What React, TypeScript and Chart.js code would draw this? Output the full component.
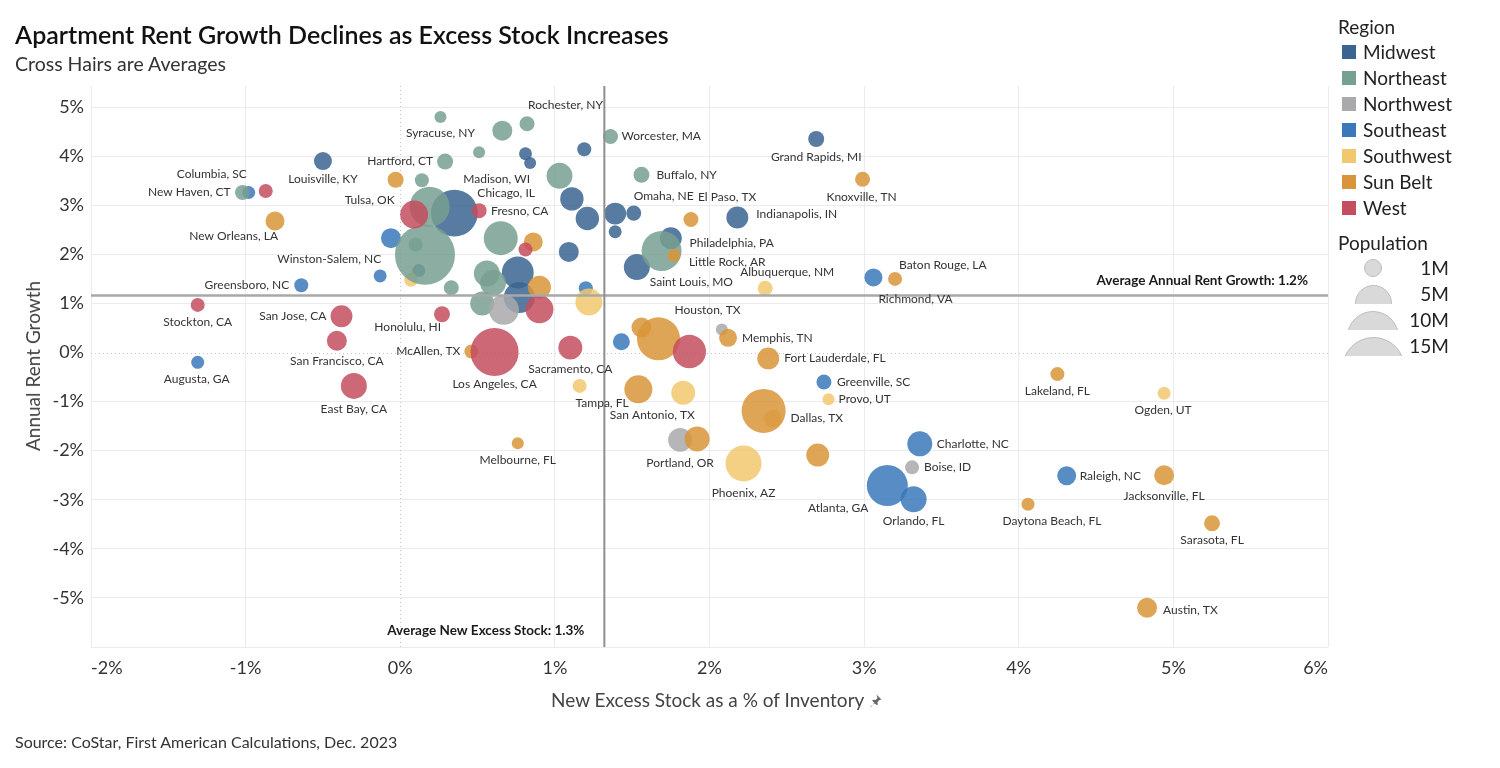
import React, { useEffect, useRef } from "react";
import { Chart, registerables } from "chart.js";

Chart.register(...registerables);

const FONT = "Lato, 'Open Sans', sans-serif";

// ---------- Data ----------
const REGIONS = ["Midwest", "Northeast", "Northwest", "Southeast", "Southwest", "Sun Belt", "West"];
const REGION_COLORS = ["#3b6591", "#78a092", "#a9a9ab", "#3a78bb", "#f2c86f", "#d9953a", "#c44e5f"];

const MIDWEST_CITIES = ["Louisville, KY", "Chicago, IL", "Madison, WI", "", "", "", "", "", "Omaha, NE", "", "Indianapolis, IN", "Grand Rapids, MI", "", "Saint Louis, MO", "", "", "", ""];
const MIDWEST_STOCK = [-0.5, 0.35, 0.84, 0.81, 1.19, 1.11, 1.21, 1.39, 1.51, 1.39, 2.18, 2.69, 1.75, 1.53, 1.09, 0.76, 0.77, 0.12];
const MIDWEST_GROWTH = [3.9, 2.84, 3.86, 4.05, 4.14, 3.13, 2.73, 2.83, 2.84, 2.46, 2.75, 4.35, 2.33, 1.74, 2.05, 1.63, 1.12, 1.67];
const MIDWEST_POP = [1.75, 11.9, 0.78, 0.91, 1.06, 2.96, 2.96, 2.6, 1.22, 0.91, 2.6, 1.38, 2.6, 3.65, 2.16, 5.5, 5.2, 0.91];

const NORTHEAST_CITIES = ["Syracuse, NY", "", "Rochester, NY", "", "Hartford, CT", "", "Worcester, MA", "Buffalo, NY", "", "New Haven, CT", "", "", "", "", "Philadelphia, PA", "", "", "", ""];
const NORTHEAST_STOCK = [0.26, 0.66, 0.82, 0.51, 0.29, 0.14, 1.36, 1.56, 1.03, -1.02, 0.19, 0.16, 0.1, 0.65, 1.69, 0.56, 0.6, 0.33, 0.53];
const NORTHEAST_GROWTH = [4.8, 4.52, 4.66, 4.08, 3.89, 3.51, 4.4, 3.62, 3.6, 3.26, 2.97, 1.99, 2.2, 2.33, 2.07, 1.61, 1.42, 1.32, 1.0];
const NORTHEAST_POP = [0.78, 2.16, 1.22, 0.78, 1.38, 1.06, 1.22, 1.38, 3.65, 1.22, 8.65, 19.5, 1.06, 6.25, 8.65, 3.65, 3.65, 1.22, 3.1];

const NORTHWEST_CITIES = ["", "", "Portland, OR", "Boise, ID"];
const NORTHWEST_STOCK = [0.67, 2.08, 1.81, 3.31];
const NORTHWEST_GROWTH = [0.87, 0.47, -1.78, -2.34];
const NORTHWEST_POP = [4.87, 0.78, 3.1, 1.06];

const SOUTHEAST_CITIES = ["Columbia, SC", "", "Winston-Salem, NC", "Greensboro, NC", "Augusta, GA", "", "", "Richmond, VA", "Greenville, SC", "Charlotte, NC", "Atlanta, GA", "Orlando, FL", "Raleigh, NC"];
const SOUTHEAST_STOCK = [-0.98, -0.06, -0.13, -0.64, -1.31, 1.2, 1.43, 3.06, 2.74, 3.36, 3.15, 3.32, 4.31];
const SOUTHEAST_GROWTH = [3.26, 2.33, 1.56, 1.37, -0.2, 1.31, 0.22, 1.53, -0.6, -1.86, -2.71, -2.99, -2.51];
const SOUTHEAST_POP = [0.91, 2.16, 0.91, 1.06, 0.91, 1.06, 1.56, 1.75, 1.22, 3.38, 9.1, 3.65, 1.95];

const SOUTHWEST_CITIES = ["", "", "Albuquerque, NM", "Tampa, FL", "", "", "Provo, UT", "Ogden, UT", "Phoenix, AZ"];
const SOUTHWEST_STOCK = [0.07, 1.22, 2.36, 1.16, 1.83, 2.41, 2.77, 4.94, 2.22];
const SOUTHWEST_GROWTH = [1.48, 1.03, 1.31, -0.68, -0.82, -1.35, -0.95, -0.83, -2.26];
const SOUTHWEST_POP = [1.06, 3.94, 1.22, 1.06, 3.1, 1.75, 0.78, 0.91, 7.0];

const SUNBELT_CITIES = ["Tulsa, OK", "New Orleans, LA", "", "El Paso, TX", "Knoxville, TN", "Baton Rouge, LA", "", "McAllen, TX", "", "Houston, TX", "Memphis, TN", "Fort Lauderdale, FL", "San Antonio, TX", "Melbourne, FL", "", "Dallas, TX", "", "Lakeland, FL", "Jacksonville, FL", "Daytona Beach, FL", "Sarasota, FL", "Austin, TX", "Little Rock, AR"];
const SUNBELT_STOCK = [-0.03, -0.81, 0.86, 1.88, 2.99, 3.2, 0.9, 0.46, 1.56, 1.67, 2.12, 2.38, 1.54, 0.76, 1.92, 2.35, 2.7, 4.25, 4.94, 4.06, 5.25, 4.83, 1.77];
const SUNBELT_GROWTH = [3.52, 2.68, 2.25, 2.71, 3.53, 1.5, 1.33, 0.02, 0.51, 0.28, 0.3, -0.12, -0.75, -1.85, -1.76, -1.19, -2.09, -0.44, -2.5, -3.09, -3.48, -5.2, 1.98];
const SUNBELT_POP = [1.38, 1.95, 1.95, 1.22, 1.22, 1.06, 2.86, 1.06, 2.16, 10.0, 1.75, 2.6, 4.24, 0.78, 3.38, 10.5, 2.86, 1.06, 2.16, 0.91, 1.38, 2.16, 0.91];

const WEST_CITIES = ["", "", "Fresno, CA", "", "", "Stockton, CA", "San Jose, CA", "Honolulu, HI", "San Francisco, CA", "East Bay, CA", "Los Angeles, CA", "Sacramento, CA", ""];
const WEST_STOCK = [-0.87, 0.09, 0.51, 0.81, 0.9, -1.31, -0.38, 0.27, -0.41, -0.3, 0.61, 1.1, 1.87];
const WEST_GROWTH = [3.29, 2.81, 2.89, 2.1, 0.88, 0.97, 0.74, 0.78, 0.24, -0.68, 0.01, 0.1, 0.02];
const WEST_POP = [1.06, 4.24, 1.22, 1.06, 4.24, 1.06, 2.6, 1.38, 2.16, 3.65, 12.5, 3.1, 6.0];

const AVG_GROWTH = 1.16;
const AVG_STOCK = 1.32;

const X_TICKS_MIN = -2;
const X_TICKS_MAX = 6;
const Y_TICKS_MIN = -6;
const Y_TICKS_MAX = 5.43;

const POP_LEGEND = ["1M", "5M", "10M", "15M"];

// ---------- Layout / style tables (not data) ----------
// label anchor: c = centred, l = text starts at offset, r = text ends at offset
const LABEL_PLACE: Record<string, [string, number, number]> = {
  "Syracuse, NY": ["c", 0, 16],
  "Rochester, NY": ["l", 1, -19],
  "Hartford, CT": ["r", -12, 0],
  "Louisville, KY": ["c", 0, 18],
  "Columbia, SC": ["r", -2, -18],
  "New Haven, CT": ["r", -12, 0],
  "Tulsa, OK": ["r", -1, 20],
  "Madison, WI": ["r", 0, 16],
  "Chicago, IL": ["l", 23, -20],
  "Fresno, CA": ["l", 12, 0],
  "New Orleans, LA": ["r", 3, 15],
  "Winston-Salem, NC": ["r", 1, -17],
  "Greensboro, NC": ["r", -12, 0],
  "Worcester, MA": ["l", 11, 0],
  "Grand Rapids, MI": ["c", 0, 18],
  "Buffalo, NY": ["l", 15, 0],
  "Omaha, NE": ["l", 0, -17],
  "El Paso, TX": ["l", 7, -22],
  "Knoxville, TN": ["c", -1, 18],
  "Indianapolis, IN": ["l", 19, -3],
  "Philadelphia, PA": ["l", 28, -8],
  "Little Rock, AR": ["l", 15, 7],
  "Saint Louis, MO": ["l", 13, 15],
  "Albuquerque, NM": ["c", 22, -16],
  "Baton Rouge, LA": ["l", 4, -14],
  "Richmond, VA": ["l", 5, 22],
  "Stockton, CA": ["c", 0, 17],
  "San Jose, CA": ["r", -15, 0],
  "Honolulu, HI": ["r", -1, 13],
  "San Francisco, CA": ["c", 0, 20],
  "Augusta, GA": ["c", -1, 17],
  "East Bay, CA": ["c", 0, 23],
  "McAllen, TX": ["r", -11, 0],
  "Los Angeles, CA": ["c", 0, 32],
  "Sacramento, CA": ["c", 0, 22],
  "Tampa, FL": ["l", -4, 17],
  "San Antonio, TX": ["c", 14, 26],
  "Houston, TX": ["c", 49, -29],
  "Memphis, TN": ["l", 14, 0],
  "Fort Lauderdale, FL": ["l", 16, 0],
  "Melbourne, FL": ["c", 0, 17],
  "Portland, OR": ["c", 0, 23],
  "Dallas, TX": ["l", 27, 7],
  "Greenville, SC": ["l", 13, 0],
  "Provo, UT": ["l", 10, 0],
  "Lakeland, FL": ["c", 0, 17],
  "Ogden, UT": ["c", -1, 17],
  "Charlotte, NC": ["l", 17, 0],
  "Phoenix, AZ": ["c", 0, 30],
  "Boise, ID": ["l", 12, 0],
  "Atlanta, GA": ["r", -19, 23],
  "Orlando, FL": ["c", 0, 22],
  "Raleigh, NC": ["l", 13, 0],
  "Jacksonville, FL": ["c", 0, 21],
  "Daytona Beach, FL": ["c", 24, 17],
  "Sarasota, FL": ["c", 0, 17],
  "Austin, TX": ["l", 16, 2],
};

const POP_LEGEND_DIAM = [18, 37, 52, 63];

function radiusFor(popM: number) {
  return 6.8 * Math.sqrt(popM);
}

function hexA(hex: string, a: number) {
  const n = parseInt(hex.slice(1), 16);
  return `rgba(${(n >> 16) & 255},${(n >> 8) & 255},${n & 255},${a})`;
}

const REGION_SERIES = [
  { cities: MIDWEST_CITIES, x: MIDWEST_STOCK, y: MIDWEST_GROWTH, pop: MIDWEST_POP },
  { cities: NORTHEAST_CITIES, x: NORTHEAST_STOCK, y: NORTHEAST_GROWTH, pop: NORTHEAST_POP },
  { cities: NORTHWEST_CITIES, x: NORTHWEST_STOCK, y: NORTHWEST_GROWTH, pop: NORTHWEST_POP },
  { cities: SOUTHEAST_CITIES, x: SOUTHEAST_STOCK, y: SOUTHEAST_GROWTH, pop: SOUTHEAST_POP },
  { cities: SOUTHWEST_CITIES, x: SOUTHWEST_STOCK, y: SOUTHWEST_GROWTH, pop: SOUTHWEST_POP },
  { cities: SUNBELT_CITIES, x: SUNBELT_STOCK, y: SUNBELT_GROWTH, pop: SUNBELT_POP },
  { cities: WEST_CITIES, x: WEST_STOCK, y: WEST_GROWTH, pop: WEST_POP },
];

// drawing order (first = bottom)
const DRAW_ORDER = ["West", "Sun Belt", "Northwest", "Northeast", "Southwest", "Southeast", "Midwest"];

const overlayPlugin = {
  id: "overlay",
  beforeDatasetsDraw(chart: any) {
    const { ctx, chartArea: a, scales } = chart;
    const xs = scales.x;
    const ys = scales.y;
    ctx.save();
    ctx.strokeStyle = "#c4c4c4";
    ctx.lineWidth = 1;
    ctx.setLineDash([1, 3]);
    const x0 = Math.round(xs.getPixelForValue(0)) + 0.5;
    ctx.beginPath();
    ctx.moveTo(x0, a.top);
    ctx.lineTo(x0, a.bottom);
    ctx.stroke();
    const y0 = Math.round(ys.getPixelForValue(0)) + 0.5;
    ctx.beginPath();
    ctx.moveTo(a.left, y0);
    ctx.lineTo(a.right, y0);
    ctx.stroke();
    ctx.restore();
  },
  afterDatasetsDraw(chart: any) {
    const { ctx, chartArea: a, scales } = chart;
    const xs = scales.x;
    const ys = scales.y;
    ctx.save();
    // average cross hairs
    const hy = ys.getPixelForValue(AVG_GROWTH);
    ctx.strokeStyle = "#a8a8a8";
    ctx.lineWidth = 2.5;
    ctx.beginPath();
    ctx.moveTo(a.left, hy);
    ctx.lineTo(a.right, hy);
    ctx.stroke();
    const vx = xs.getPixelForValue(AVG_STOCK);
    ctx.strokeStyle = "#8f8f8f";
    ctx.lineWidth = 2;
    ctx.beginPath();
    ctx.moveTo(vx, a.top);
    ctx.lineTo(vx, a.bottom);
    ctx.stroke();

    ctx.fillStyle = "#1a1a1a";
    ctx.font = `bold 13.5px ${FONT}`;
    ctx.textBaseline = "middle";
    ctx.textAlign = "right";
    ctx.fillText(`Average Annual Rent Growth: ${AVG_GROWTH.toFixed(1)}%`, a.right - 20, hy - 15);
    ctx.fillText(`Average New Excess Stock: ${AVG_STOCK.toFixed(1)}%`, vx - 20, a.bottom - 16);

    // city labels
    ctx.font = `12px ${FONT}`;
    ctx.fillStyle = "#333333";
    chart.data.datasets.forEach((ds: any, i: number) => {
      const meta = chart.getDatasetMeta(i);
      const names: string[] = ds.cityNames;
      meta.data.forEach((el: any, j: number) => {
        const name = names[j];
        if (!name) return;
        const p = LABEL_PLACE[name] || ["l", 10, 0];
        ctx.textAlign = p[0] === "c" ? "center" : p[0] === "l" ? "left" : "right";
        ctx.fillText(name, el.x + p[1], el.y + p[2]);
      });
    });

    // x tick labels: end labels kept inside the axis range
    ctx.font = `18px ${FONT}`;
    ctx.fillStyle = "#333";
    const ticks = xs.ticks;
    ticks.forEach((t: any, i: number) => {
      const px = xs.getPixelForValue(t.value);
      ctx.textAlign = i === 0 ? "left" : i === ticks.length - 1 ? "right" : "center";
      ctx.fillText(`${t.value}%`, px, a.bottom + 21);
    });
    ctx.restore();
  },
};

export default function App() {
  const ref = useRef<HTMLCanvasElement | null>(null);

  useEffect(() => {
    if (!ref.current) return;
    Chart.defaults.font.family = FONT;
    const datasets = DRAW_ORDER.map((region) => {
      const idx = REGIONS.indexOf(region);
      const s = REGION_SERIES[idx];
      return {
        label: region,
        cityNames: s.cities,
        data: s.x.map((xv, k) => ({ x: xv, y: s.y[k], r: radiusFor(s.pop[k]) })),
        backgroundColor: hexA(REGION_COLORS[idx], 0.85),
        borderWidth: 0,
        hoverBorderWidth: 0,
      } as any;
    });

    const chart = new Chart(ref.current, {
      type: "bubble",
      data: { datasets },
      plugins: [overlayPlugin],
      options: {
        responsive: false,
        animation: false,
        devicePixelRatio: 1,
        layout: { padding: { left: 0, top: 86, right: 172, bottom: 0 } },
        plugins: { legend: { display: false }, tooltip: { enabled: false } },
        scales: {
          x: {
            type: "linear",
            min: X_TICKS_MIN,
            max: X_TICKS_MAX,
            afterFit: (s: any) => {
              s.height = 121;
            },
            afterBuildTicks: (s: any) => {
              s.ticks = s.ticks.filter((t: any) => Number.isInteger(t.value));
            },
            ticks: {
              stepSize: 1,
              display: false,
            },
            grid: {
              drawTicks: false,
              color: (c: any) => (c.tick && c.tick.value === 0 ? "rgba(0,0,0,0)" : "#ebebeb"),
              lineWidth: 1,
            },
            border: { display: false },
          },
          y: {
            type: "linear",
            min: Y_TICKS_MIN,
            max: Y_TICKS_MAX,
            afterFit: (s: any) => {
              s.width = 91;
            },
            afterBuildTicks: (s: any) => {
              s.ticks = s.ticks.filter((t: any) => Number.isInteger(t.value));
            },
            ticks: {
              stepSize: 1,
              padding: 7,
              color: "#333",
              font: { size: 18, family: FONT },
              callback: (v: any) => (v <= Y_TICKS_MIN ? "" : `${v}%`),
            },
            grid: {
              drawTicks: false,
              color: (c: any) => (c.tick && c.tick.value === 0 ? "rgba(0,0,0,0)" : "#ebebeb"),
              lineWidth: 1,
            },
            border: { display: false },
          },
        },
      } as any,
    });
    return () => chart.destroy();
  }, []);

  const textBase: React.CSSProperties = { position: "absolute", whiteSpace: "nowrap", color: "#222" };

  return (
    <div
      style={{
        position: "absolute",
        left: 0,
        top: 0,
        width: 1500,
        height: 768,
        background: "#fff",
        overflow: "hidden",
        fontFamily: FONT,
      }}
    >
      <canvas ref={ref} width={1500} height={768} style={{ position: "absolute", left: 0, top: 0, width: 1500, height: 768 }} />

      <div style={{ ...textBase, left: 15, top: 18, fontSize: 25, fontWeight: 600, lineHeight: "32px", color: "#111" }}>
        Apartment Rent Growth Declines as Excess Stock Increases
      </div>
      <div style={{ ...textBase, left: 15, top: 52, fontSize: 19.5, lineHeight: "24px", color: "#333" }}>
        Cross Hairs are Averages
      </div>

      <div
        style={{
          ...textBase,
          left: 33,
          top: 366,
          fontSize: 19,
          lineHeight: "24px",
          color: "#444",
          transform: "translate(-50%, -50%) rotate(-90deg)",
        }}
      >
        Annual Rent Growth
      </div>

      <div style={{ ...textBase, left: 551, top: 688, fontSize: 19, lineHeight: "24px", color: "#444" }}>
        New Excess Stock as a % of Inventory
        <svg width="12" height="14" viewBox="0 0 12 14" style={{ marginLeft: 6, verticalAlign: "-1px" }}>
          <path d="M6.5 0.5 L11.5 5.5 L9.5 6 L7.5 8 L7.8 10.5 L6.8 11.3 L4.2 8.7 L1 13 L0.5 12.5 L4.8 9.3 L2.2 6.7 L3 5.7 L5.5 6 L7.5 4 Z" fill="#666" />
        </svg>
      </div>

      <div style={{ ...textBase, left: 15, top: 731, fontSize: 16, lineHeight: "22px", color: "#333" }}>
        Source: CoStar, First American Calculations, Dec. 2023
      </div>

      {/* Region legend */}
      <div style={{ ...textBase, left: 1338, top: 15, fontSize: 19, lineHeight: "24px", color: "#222" }}>Region</div>
      {REGIONS.map((r, i) => (
        <React.Fragment key={r}>
          <div
            style={{
              position: "absolute",
              left: 1342,
              top: 45 + 26 * i,
              width: 14,
              height: 14,
              background: REGION_COLORS[i],
            }}
          />
          <div style={{ ...textBase, left: 1363, top: 40 + 26 * i, fontSize: 19, lineHeight: "24px", color: "#222" }}>{r}</div>
        </React.Fragment>
      ))}

      {/* Population legend */}
      <div style={{ ...textBase, left: 1338, top: 231, fontSize: 19, lineHeight: "24px", color: "#222" }}>Population</div>
      {POP_LEGEND.map((p, i) => {
        const cy = 268 + 26 * i;
        const d = POP_LEGEND_DIAM[i];
        const full = i === 0;
        const clipTop = full ? cy - d / 2 : cy - 9.5;
        const clipH = full ? d : 19;
        return (
          <React.Fragment key={p}>
            <div
              style={{
                position: "absolute",
                left: 1373 - d / 2,
                top: clipTop,
                width: d,
                height: clipH,
                overflow: "hidden",
              }}
            >
              <div
                style={{
                  width: d,
                  height: d,
                  borderRadius: "50%",
                  background: "#d9d9d9",
                  border: "1.5px solid #bdbdbd",
                  boxSizing: "border-box",
                }}
              />
            </div>
            <div
              style={{
                ...textBase,
                left: 1395,
                width: 54,
                textAlign: "right",
                top: cy - 12,
                fontSize: 19,
                lineHeight: "24px",
                color: "#222",
              }}
            >
              {p}
            </div>
          </React.Fragment>
        );
      })}
    </div>
  );
}
